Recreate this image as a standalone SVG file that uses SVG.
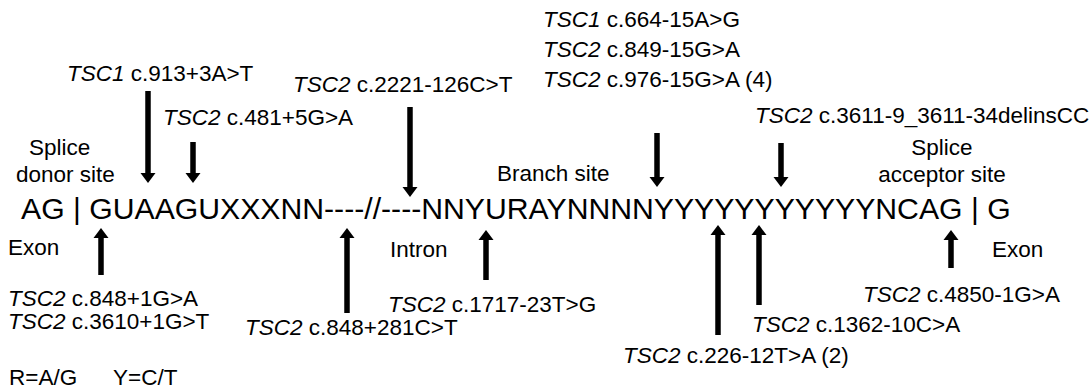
<svg xmlns="http://www.w3.org/2000/svg" width="1091" height="389" viewBox="0 0 1091 389">
<style>
text{font-family:"Liberation Sans",Arial,Helvetica,sans-serif;fill:#000;font-size:22.5px}
.seq{font-size:30.2px}
.it{font-style:italic}
.arr{stroke:#000;stroke-width:5.5;fill:none;marker-end:url(#head)}
</style>
<defs>
<marker id="head" markerUnits="userSpaceOnUse" markerWidth="12" markerHeight="16" viewBox="0 -8 12 16" refX="1" refY="0" orient="auto">
<path d="M0,-7.5 L10,0 L0,7.5 Z" fill="#000"/>
</marker>
</defs>
<rect width="1091" height="389" fill="#fff"/>
<g id="sequence"><text class="seq" x="21" y="219">AG | GUAAGUXXXNN----//----NNYURAYNNNNYYYYYYYYYYYNCAG | G</text></g>
<g id="donor-site"><text x="29" y="155">Splice</text><text x="16" y="182">donor site</text></g>
<g id="branch-site"><text x="497" y="181">Branch site</text></g>
<g id="acceptor-site"><text x="942" y="155" text-anchor="middle">Splice</text><text x="942" y="182" text-anchor="middle">acceptor site</text></g>
<g id="exon-left"><text x="8" y="255">Exon</text></g>
<g id="intron"><text x="390" y="257">Intron</text></g>
<g id="exon-right"><text x="992" y="257">Exon</text></g>
<g id="m-913"><text x="67" y="81"><tspan class="it">TSC1</tspan> c.913+3A&gt;T</text></g>
<g id="m-481"><text x="163" y="125"><tspan class="it">TSC2</tspan> c.481+5G&gt;A</text></g>
<g id="m-2221"><text x="293" y="92"><tspan class="it">TSC2</tspan> c.2221-126C&gt;T</text></g>
<g id="m-branch"><text x="543" y="27"><tspan class="it">TSC1</tspan> c.664-15A&gt;G</text><text x="543" y="57"><tspan class="it">TSC2</tspan> c.849-15G&gt;A</text><text x="543" y="87"><tspan class="it">TSC2</tspan> c.976-15G&gt;A (4)</text></g>
<g id="m-3611"><text x="755" y="123"><tspan class="it">TSC2</tspan> c.3611-9_3611-34delinsCC</text></g>
<g id="m-848-1"><text x="8" y="306"><tspan class="it">TSC2</tspan> c.848+1G&gt;A</text><text x="8" y="329"><tspan class="it">TSC2</tspan> c.3610+1G&gt;T</text></g>
<g id="m-848-281"><text x="245" y="335"><tspan class="it">TSC2</tspan> c.848+281C&gt;T</text></g>
<g id="m-1717"><text x="388" y="312"><tspan class="it">TSC2</tspan> c.1717-23T&gt;G</text></g>
<g id="m-226"><text x="623" y="363"><tspan class="it">TSC2</tspan> c.226-12T&gt;A (2)</text></g>
<g id="m-1362"><text x="752" y="332"><tspan class="it">TSC2</tspan> c.1362-10C&gt;A</text></g>
<g id="m-4850"><text x="863" y="302"><tspan class="it">TSC2</tspan> c.4850-1G&gt;A</text></g>
<g id="legend"><text x="9" y="385">R=A/G</text><text x="113" y="385">Y=C/T</text></g>
<g id="connectors">
<line class="arr" x1="148" y1="91" x2="148" y2="174"/>
<line class="arr" x1="193" y1="142" x2="193" y2="174"/>
<line class="arr" x1="410" y1="107" x2="410" y2="188"/>
<line class="arr" x1="657" y1="133" x2="657" y2="178"/>
<line class="arr" x1="781" y1="143" x2="781" y2="178"/>
<line class="arr" x1="101" y1="275" x2="101" y2="237"/>
<line class="arr" x1="347" y1="313" x2="347" y2="237"/>
<line class="arr" x1="486" y1="280" x2="486" y2="239"/>
<line class="arr" x1="718" y1="335" x2="718" y2="234"/>
<line class="arr" x1="759" y1="305" x2="759" y2="234"/>
<line class="arr" x1="951" y1="268" x2="951" y2="239"/>
</g>
</svg>
